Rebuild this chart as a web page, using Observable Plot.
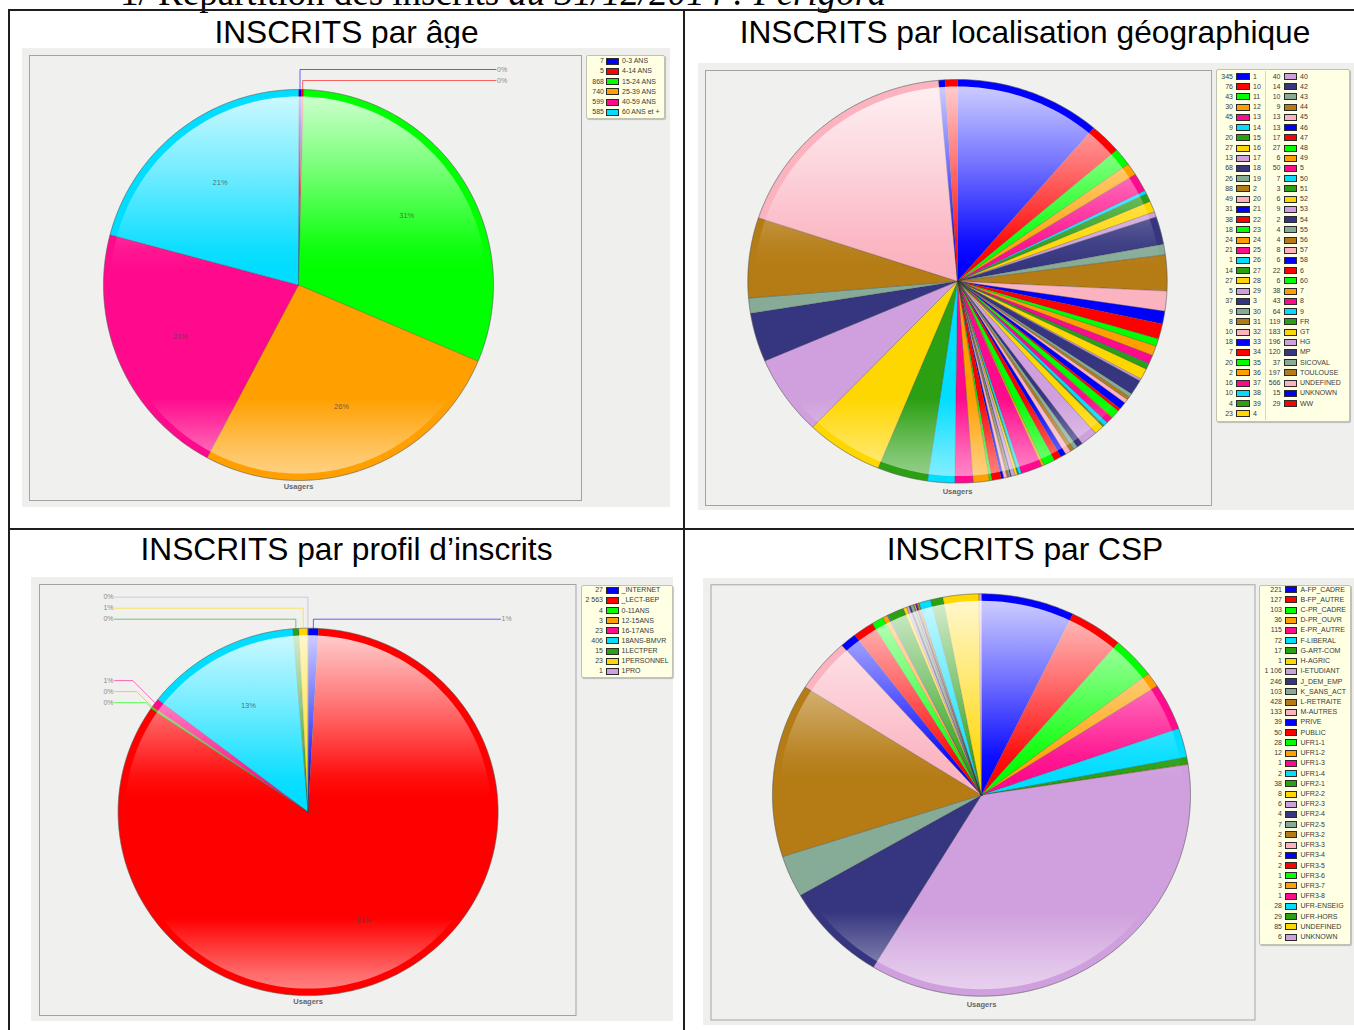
<!DOCTYPE html>
<html><head><meta charset="utf-8">
<script src="https://cdn.jsdelivr.net/npm/d3@7"></script>
<script src="https://cdn.jsdelivr.net/npm/@observablehq/plot@0.6"></script>
<style>
body{margin:0;width:1354px;height:1030px;overflow:hidden;position:relative;background:#fff;font-family:"Liberation Sans",Arial,sans-serif;}
.rule{position:absolute;background:#1e1e1e}
.title{position:absolute;text-align:center;font-size:31.7px;line-height:36px;color:#000;white-space:nowrap}
.heading{position:absolute;left:120px;top:-29px;font-family:"Liberation Serif","Times New Roman",serif;font-size:37px;line-height:44px;white-space:nowrap;color:#000}
.chart{position:absolute}
.legend{position:absolute;background:#ffffe3;border:1px solid #c2c2b2;box-shadow:1px 1px 1px rgba(0,0,0,0.22);border-radius:2px;box-sizing:border-box}
.lval,.llab{position:absolute;font-size:7px;line-height:10px;height:10px;color:#3a3a3a;white-space:nowrap;font-family:"Liberation Sans Narrow","Arial Narrow","Liberation Sans",Arial,sans-serif}
.lval{text-align:right;width:40px}
.sw{position:absolute;height:7px;border:1px solid #2a2a2a;box-sizing:border-box}
.ldiv{position:absolute;width:1px;background:#d6d6c6}
</style></head><body>
<svg width="0" height="0" style="position:absolute">
  <defs>
    <linearGradient id="gloss" x1="0" y1="0" x2="0" y2="1">
      <stop offset="0" stop-color="#fff" stop-opacity="0.8"/>
      <stop offset="0.2" stop-color="#fff" stop-opacity="0.45"/>
      <stop offset="0.4" stop-color="#fff" stop-opacity="0.06"/>
      <stop offset="0.46" stop-color="#fff" stop-opacity="0"/>
      <stop offset="0.8" stop-color="#fff" stop-opacity="0"/>
      <stop offset="0.95" stop-color="#fff" stop-opacity="0.4"/>
      <stop offset="1" stop-color="#fff" stop-opacity="0.5"/>
    </linearGradient>
  </defs>
</svg>
<div class="heading">1/ Répartition des inscrits <i>au 31/12/2014 : Périgord</i></div>
<div class="rule" style="left:8px;top:9px;width:1346px;height:2px"></div>
<div class="rule" style="left:8px;top:9px;width:2px;height:1021px"></div>
<div class="rule" style="left:8px;top:528px;width:1346px;height:2px"></div>
<div class="rule" style="left:683px;top:9px;width:2px;height:1021px"></div>
<div id="root"></div>
<script>
// ---------- data ----------
const palette = ["#0000ff","#ff0000","#00ff00","#ffa000","#ff0a8c","#00ddff","#2aa012","#ffd700","#cfa0dd","#363680","#86ac98","#b57c15","#fbb3c0"];

const titles = ["INSCRITS par âge","INSCRITS par localisation géographique","INSCRITS par profil d’inscrits","INSCRITS par CSP"];
const axisLabel = "Usagers";

const ageLabels = ["0-3 ANS","4-14 ANS","15-24 ANS","25-39 ANS","40-59 ANS","60 ANS et +"];
const ageValues = [7,5,868,740,599,585];

const geoLabels = ["1","10","11","12","13","14","15","16","17","18","19","2","20","21","22","23","24","25","26","27","28","29","3","30","31","32","33","34","35","36","37","38","39","4",
  "40","42","43","44","45","46","47","48","49","5","50","51","52","53","54","55","56","57","58","6","60","7","8","9","FR","GT","HG","MP","SICOVAL","TOULOUSE","UNDEFINED","UNKNOWN","WW"];
const geoValues = [345,76,43,30,45,9,20,27,13,68,26,88,49,31,38,18,24,21,1,14,27,5,37,9,8,10,18,7,20,2,16,10,4,23,
  40,14,10,9,13,13,17,27,6,50,7,3,6,9,2,4,4,8,6,22,6,38,43,64,119,183,196,120,37,197,566,15,29];

const profilLabels = ["_INTERNET","_LECT-BEP","0-11ANS","12-15ANS","16-17ANS","18ANS-BMVR","1LECTPER","1PERSONNEL","1PRO"];
const profilValues = [27,2563,4,3,23,406,15,23,1];

const cspLabels = ["A-FP_CADRE","B-FP_AUTRE","C-PR_CADRE","D-PR_OUVR","E-PR_AUTRE","F-LIBERAL","G-ART-COM","H-AGRIC","I-ETUDIANT","J_DEM_EMP","K_SANS_ACT","L-RETRAITE","M-AUTRES","PRIVE","PUBLIC",
  "UFR1-1","UFR1-2","UFR1-3","UFR1-4","UFR2-1","UFR2-2","UFR2-3","UFR2-4","UFR2-5","UFR3-2","UFR3-3","UFR3-4","UFR3-5","UFR3-6","UFR3-7","UFR3-8","UFR-ENSEIG","UFR-HORS","UNDEFINED","UNKNOWN"];
const cspValues = [221,127,103,36,115,72,17,1,1106,246,103,428,133,39,50,28,12,1,2,38,8,6,4,7,2,3,2,2,1,3,1,28,29,85,6];

// ---------- layout ----------
const layouts = [
  {title:{x:10,w:673,top:14}, bg:{x:22,y:48,w:648,h:459}, frame:{x0:29,y0:55,x1:581,y1:500}, pie:{cx:298,cy:284.5,rx:195,ry:195.5}, usagersDy:6.5, labels:true,
   legend:{box:{x:586,y:55,w:79,h:64}, cols:[{start:0,count:6,valueRight:604,swX:606,labelX:622}], rowY0:61, rowStep:10.26, swW:13}},
  {title:{x:685,w:680,top:14}, bg:{x:698,y:63,w:656,h:447}, frame:{x0:705,y0:70,x1:1211,y1:505}, pie:{cx:957,cy:280.8,rx:209.7,ry:201.8}, usagersDy:8, labels:false,
   legend:{box:{x:1216,y:69,w:134,h:353}, cols:[{start:0,count:34,valueRight:1233,swX:1236,labelX:1253},{start:34,count:33,valueRight:1280.5,swX:1283.5,labelX:1300}], divider:1264.5, rowY0:76.5, rowStep:10.22, swW:13.5}},
  {title:{x:10,w:673,top:531}, bg:{x:31,y:577,w:642,h:444}, frame:{x0:39,y0:584,x1:575.5,y1:1015}, pie:{cx:307.6,cy:811.4,rx:190,ry:183.7}, usagersDy:6, labels:true,
   legend:{box:{x:581,y:585,w:92,h:93}, cols:[{start:0,count:9,valueRight:603,swX:606,labelX:621.5}], rowY0:590.3, rowStep:10.12, swW:12.5}},
  {title:{x:685,w:680,top:531}, bg:{x:703,y:578,w:651,h:447}, frame:{x0:710.5,y0:584.3,x1:1254.5,y1:1019.5}, pie:{cx:981,cy:794.5,rx:209,ry:201.2}, usagersDy:8.6, labels:false,
   legend:{box:{x:1259,y:585,w:92,h:360}, cols:[{start:0,count:35,valueRight:1282,swX:1285,labelX:1300.5}], rowY0:589.6, rowStep:10.22, swW:12}}
];

const datasets = [
  [ageLabels, ageValues],
  [geoLabels, geoValues],
  [profilLabels, profilValues],
  [cspLabels, cspValues]
];

const fr = d3.formatLocale({decimal:",", thousands:" ", grouping:[3], currency:["","€"]});
const fmtInt = fr.format(",d");
const TAU = 2 * Math.PI;
const root = document.getElementById("root");

function ellipsePts(sx, sy) {
  const pts = [];
  for (let k = 0; k <= 180; k++) { const t = k / 180 * TAU; pts.push({x: sx * Math.sin(t), y: sy * Math.cos(t)}); }
  return pts;
}

function buildChart(labels, values, L) {
  const total = d3.sum(values);
  let acc = 0;
  const slices = values.map((v, i) => {
    const a0 = acc / total * TAU; acc += v; const a1 = acc / total * TAU;
    return {key: labels[i], value: v, frac: v / total, a0, a1, m: (a0 + a1) / 2, color: palette[i % palette.length]};
  });
  const {cx, cy, rx, ry} = L.pie;

  // slice polygons
  const slicePts = [];
  for (const s of slices) {
    const n = Math.max(2, Math.ceil((s.a1 - s.a0) / (Math.PI / 180)) + 1);
    slicePts.push({key: s.key, color: s.color, x: 0, y: 0});
    for (let k = 0; k < n; k++) {
      const a = s.a0 + (s.a1 - s.a0) * k / (n - 1);
      slicePts.push({key: s.key, color: s.color, x: Math.sin(a), y: Math.cos(a)});
    }
    slicePts.push({key: s.key, color: s.color, x: 0, y: 0});
  }

  const inset = 7;
  const gloss = ellipsePts((rx - inset) / rx, (ry - inset) / ry);
  const outline = ellipsePts(1, 1);

  // labels
  const inner = [], leaderLines = [], leaderText = [];
  if (L.labels) {
    const pct = s => Math.round(s.frac * 100) + "%";
    const big = slices.filter(s => s.frac >= 0.02);
    for (const s of big) inner.push({x: 0.66 * Math.sin(s.m), y: 0.66 * Math.cos(s.m), text: pct(s)});
    const small = slices.filter(s => s.frac < 0.02).map(s => ({...s, dx: rx * Math.sin(s.m), dy: -ry * Math.cos(s.m)}));
    const deg = 180 / Math.PI;
    const topRight = small.filter(s => s.m * deg < 30).sort((a, b) => a.m - b.m);
    const topLeft = small.filter(s => s.m * deg > 330).sort((a, b) => b.m - a.m);
    const left = small.filter(s => s.m * deg >= 180 && s.m * deg <= 330).sort((a, b) => a.dy - b.dy);
    const right = small.filter(s => s.m * deg >= 30 && s.m * deg < 180).sort((a, b) => a.dy - b.dy);
    const toData = (px, py) => ({x: px / rx, y: -py / ry});
    const push = (s, pts, tx, ty, anchor) => {
      pts.forEach(p => leaderLines.push({key: s.key, color: s.color, ...toData(p[0], p[1])}));
      leaderText.push({...toData(tx, ty), text: pct(s), anchor});
    };
    topRight.forEach((s, i, arr) => {
      const ly = -ry - 9 - 11 * (arr.length - 1 - i);
      push(s, [[s.dx, s.dy], [s.dx, ly], [rx + 2.5, ly]], rx + 3.5, ly, "start");
    });
    topLeft.forEach((s, i, arr) => {
      const ly = -ry - 9 - 11 * (arr.length - 1 - i);
      push(s, [[s.dx, s.dy], [s.dx, ly], [-rx - 3.5, ly]], -rx - 4.5, ly, "end");
    });
    if (left.length) {
      const maxDy = left[left.length - 1].dy;
      left.forEach((s, i, arr) => {
        const ly = maxDy - 5.4 - 11 * (arr.length - 1 - i);
        const ex = s.dx - (s.dy - ly);
        push(s, [[s.dx, s.dy], [ex, ly], [-rx - 3.5, ly]], -rx - 4.5, ly, "end");
      });
    }
    if (right.length) {
      const maxDy = right[right.length - 1].dy;
      right.forEach((s, i, arr) => {
        const ly = maxDy - 5.4 - 11 * (arr.length - 1 - i);
        const ex = s.dx + (s.dy - ly);
        push(s, [[s.dx, s.dy], [ex, ly], [rx + 2.5, ly]], rx + 3.5, ly, "start");
      });
    }
  }

  const b = L.bg, f = L.frame;
  const svg = Plot.plot({
    width: b.w, height: b.h,
    marginLeft: f.x0 - b.x, marginTop: f.y0 - b.y,
    marginRight: b.x + b.w - f.x1, marginBottom: b.y + b.h - f.y1,
    x: {domain: [-1, 1], range: [cx - rx - b.x, cx + rx - b.x], axis: null},
    y: {domain: [-1, 1], range: [cy + ry - b.y, cy - ry - b.y], axis: null},
    color: {type: "identity"},
    style: {background: "#eff0ee", overflow: "visible", fontFamily: "'Liberation Sans', Arial, sans-serif"},
    marks: [
      Plot.frame({stroke: "#a3a3a3", fill: "#f0f1ef", strokeWidth: 1}),
      Plot.line(slicePts, {x: "x", y: "y", z: "key", fill: "color", stroke: "#3a3a3a", strokeOpacity: 0.45, strokeWidth: 0.6, strokeLinejoin: "round"}),
      Plot.line(gloss, {x: "x", y: "y", fill: "url(#gloss)", stroke: "none"}),
      Plot.line(outline, {x: "x", y: "y", stroke: "#666", strokeOpacity: 0.55, strokeWidth: 0.7}),
      Plot.text(inner, {x: "x", y: "y", text: "text", fontSize: 7.5, fill: "#444", fillOpacity: 0.75}),
      Plot.line(leaderLines, {x: "x", y: "y", z: "key", stroke: "color", strokeOpacity: 0.6, strokeWidth: 1}),
      Plot.text(leaderText.filter(d => d.anchor === "start"), {x: "x", y: "y", text: "text", textAnchor: "start", fontSize: 7, fill: "#8a8a8a"}),
      Plot.text(leaderText.filter(d => d.anchor === "end"), {x: "x", y: "y", text: "text", textAnchor: "end", fontSize: 7, fill: "#8a8a8a"}),
      Plot.text([axisLabel], {x: () => 0, y: () => -1, text: d => d, dy: L.usagersDy, fontSize: 7.5, fontWeight: "bold", fill: "#666"})
    ]
  });
  const wrap = document.createElement("div");
  wrap.className = "chart";
  wrap.style.left = b.x + "px"; wrap.style.top = b.y + "px";
  wrap.appendChild(svg);
  root.appendChild(wrap);
}

function buildLegend(labels, values, L) {
  const g = L.legend;
  const box = document.createElement("div");
  box.className = "legend";
  Object.assign(box.style, {left: g.box.x + "px", top: g.box.y + "px", width: g.box.w + "px", height: g.box.h + "px"});
  root.appendChild(box);
  if (g.divider) {
    const d = document.createElement("div");
    d.className = "ldiv";
    Object.assign(d.style, {left: g.divider + "px", top: (g.box.y + 2) + "px", height: (g.box.h - 4) + "px"});
    root.appendChild(d);
  }
  for (const col of g.cols) {
    for (let r = 0; r < col.count; r++) {
      const i = col.start + r;
      const yc = g.rowY0 + r * g.rowStep;
      const v = document.createElement("div");
      v.className = "lval"; v.textContent = fmtInt(values[i]);
      Object.assign(v.style, {left: (col.valueRight - 40) + "px", top: (yc - 5) + "px"});
      const sw = document.createElement("div");
      sw.className = "sw"; sw.style.background = palette[i % palette.length];
      Object.assign(sw.style, {left: col.swX + "px", top: (yc - 3.5) + "px", width: g.swW + "px"});
      const t = document.createElement("div");
      t.className = "llab"; t.textContent = labels[i];
      Object.assign(t.style, {left: col.labelX + "px", top: (yc - 5) + "px"});
      root.append(v, sw, t);
    }
  }
}

layouts.forEach((L, k) => {
  const t = document.createElement("div");
  t.className = "title"; t.textContent = titles[k];
  Object.assign(t.style, {left: L.title.x + "px", width: L.title.w + "px", top: L.title.top + "px"});
  root.appendChild(t);
  const [labels, values] = datasets[k];
  buildChart(labels, values, L);
  buildLegend(labels, values, L);
});
</script>
</body></html>
